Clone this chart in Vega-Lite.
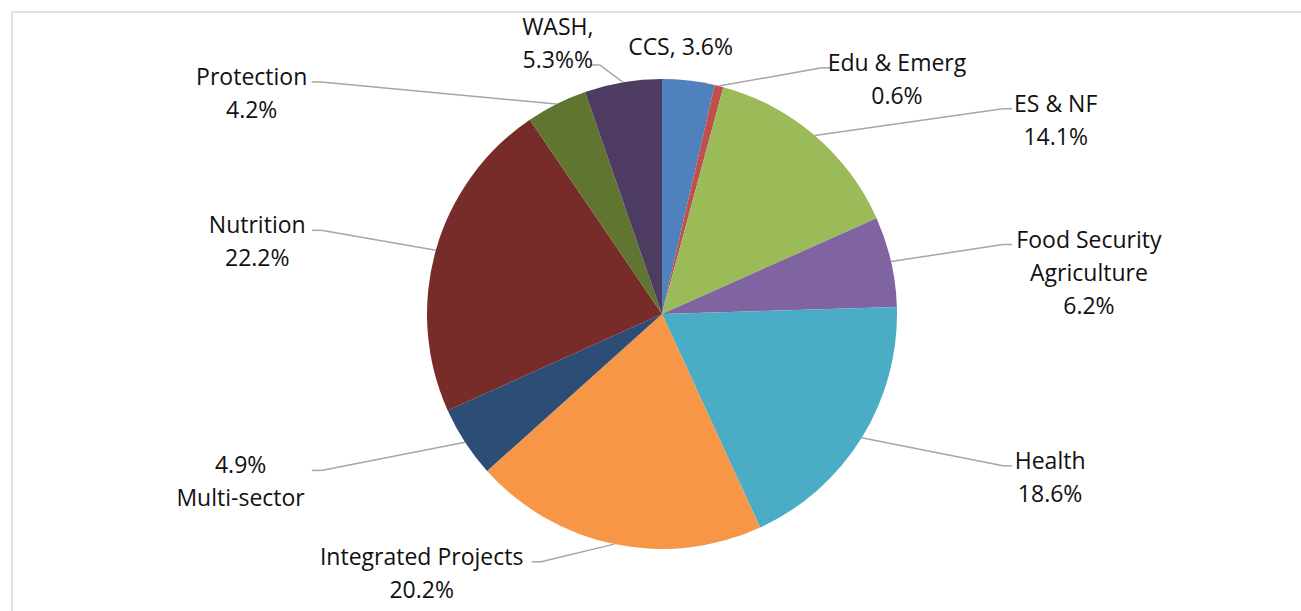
{
  "$schema": "https://vega.github.io/schema/vega-lite/v6.json",
  "width": 1300,
  "height": 604,
  "padding": {"left": 12, "top": 12, "right": 0, "bottom": 0},
  "autosize": {"type": "none"},
  "background": "white",
  "config": {
    "view": {"stroke": "#D9D9D9", "strokeWidth": 1.5},
    "text": {"font": "Open Sans", "fontSize": 23, "lineHeight": 33, "fill": "#111111"}
  },
  "data": {
    "values": [
      {"sector": "CCS", "value": 3.6, "order": 1, "label": "CCS, 3.6%"},
      {"sector": "Edu & Emerg", "value": 0.6, "order": 2, "label": "Edu & Emerg\n0.6%"},
      {"sector": "ES & NF", "value": 14.1, "order": 3, "label": "ES & NF\n14.1%"},
      {"sector": "Food Security Agriculture", "value": 6.2, "order": 4, "label": "Food Security\nAgriculture\n6.2%"},
      {"sector": "Health", "value": 18.6, "order": 5, "label": "Health\n18.6%"},
      {"sector": "Integrated Projects", "value": 20.2, "order": 6, "label": "Integrated Projects\n20.2%"},
      {"sector": "Multi-sector", "value": 4.9, "order": 7, "label": "4.9%\nMulti-sector"},
      {"sector": "Nutrition", "value": 22.2, "order": 8, "label": "Nutrition\n22.2%"},
      {"sector": "Protection", "value": 4.2, "order": 9, "label": "Protection\n4.2%"},
      {"sector": "WASH", "value": 5.3, "order": 10, "label": "WASH,\n5.3%%"}
    ]
  },
  "transform": [
    {"joinaggregate": [{"op": "sum", "field": "value", "as": "total"}]},
    {"window": [{"op": "sum", "field": "value", "as": "cum"}], "sort": [{"field": "order", "order": "ascending"}], "frame": [null, 0]},
    {"calculate": "2 * PI * (datum.cum - datum.value / 2) / datum.total", "as": "ang"},
    {"calculate": "sin(datum.ang)", "as": "s"},
    {"calculate": "cos(datum.ang)", "as": "c"},
    {"calculate": "datum.s >= 0 ? 1 : -1", "as": "side"},
    {"calculate": "abs(datum.s) < 0.15", "as": "atTop"},
    {"calculate": "abs(datum.s) < 0.2 && !datum.atTop", "as": "above"},
    {"calculate": "datum.atTop ? datum.s * 0.7 : datum.above ? datum.s * 1.6 : datum.side * min(1.45, 4.16 * abs(datum.s) - 0.33)", "as": "ex"},
    {"calculate": "datum.atTop ? 1.12 * datum.c : datum.c * (1.07 + 0.33 * (1 - abs(datum.c)))", "as": "ey"},
    {"calculate": "datum.atTop ? datum.ex : datum.ex + datum.side * 0.04", "as": "hx"},
    {"calculate": "split(datum.label, '\\n')", "as": "lines"},
    {"calculate": "max(length(datum.lines[0]), length(datum.lines[1] || ''), length(datum.lines[2] || ''))", "as": "maxLen"},
    {"calculate": "datum.atTop ? datum.ex : datum.hx + datum.side * (0.02 + datum.maxLen * 0.0236)", "as": "tx"},
    {"calculate": "datum.above ? datum.ey + (length(datum.lines) - 1) * 33 / 235 : datum.ey", "as": "ty"}
  ],
  "layer": [
    {
      "mark": {"type": "arc", "outerRadius": 235, "stroke": null},
      "encoding": {
        "theta": {"field": "value", "type": "quantitative", "stack": true},
        "order": {"field": "order", "type": "quantitative"},
        "color": {
          "field": "sector",
          "type": "nominal",
          "legend": null,
          "scale": {
            "domain": ["CCS", "Edu & Emerg", "ES & NF", "Food Security Agriculture", "Health", "Integrated Projects", "Multi-sector", "Nutrition", "Protection", "WASH"],
            "range": ["#4F81BD", "#C0504D", "#9BBB59", "#8064A2", "#4BACC6", "#F79646", "#2C4D75", "#772C2A", "#5F7530", "#4D3B62"]
          }
        }
      }
    },
    {
      "transform": [{"filter": "!datum.atTop"}],
      "mark": {"type": "rule", "color": "#A6A6A6", "strokeWidth": 1.5},
      "encoding": {
        "x": {"field": "s", "type": "quantitative", "scale": {"domain": [-2.766, 2.766], "nice": false, "zero": false}, "axis": null},
        "y": {"field": "c", "type": "quantitative", "scale": {"domain": [-1.2851, 1.2851], "nice": false, "zero": false}, "axis": null},
        "x2": {"field": "ex"},
        "y2": {"field": "ey"}
      }
    },
    {
      "transform": [{"filter": "!datum.atTop"}],
      "mark": {"type": "rule", "color": "#A6A6A6", "strokeWidth": 1.5},
      "encoding": {
        "x": {"field": "ex", "type": "quantitative", "scale": {"domain": [-2.766, 2.766], "nice": false, "zero": false}, "axis": null},
        "y": {"field": "ey", "type": "quantitative", "scale": {"domain": [-1.2851, 1.2851], "nice": false, "zero": false}, "axis": null},
        "x2": {"field": "hx"},
        "y2": {"field": "ey"}
      }
    },
    {
      "mark": {"type": "text", "align": "center", "baseline": "top", "dy": -15, "lineBreak": "\n"},
      "encoding": {
        "x": {"field": "tx", "type": "quantitative", "scale": {"domain": [-2.766, 2.766], "nice": false, "zero": false}, "axis": null},
        "y": {"field": "ty", "type": "quantitative", "scale": {"domain": [-1.2851, 1.2851], "nice": false, "zero": false}, "axis": null},
        "text": {"field": "label", "type": "nominal"}
      }
    }
  ]
}
